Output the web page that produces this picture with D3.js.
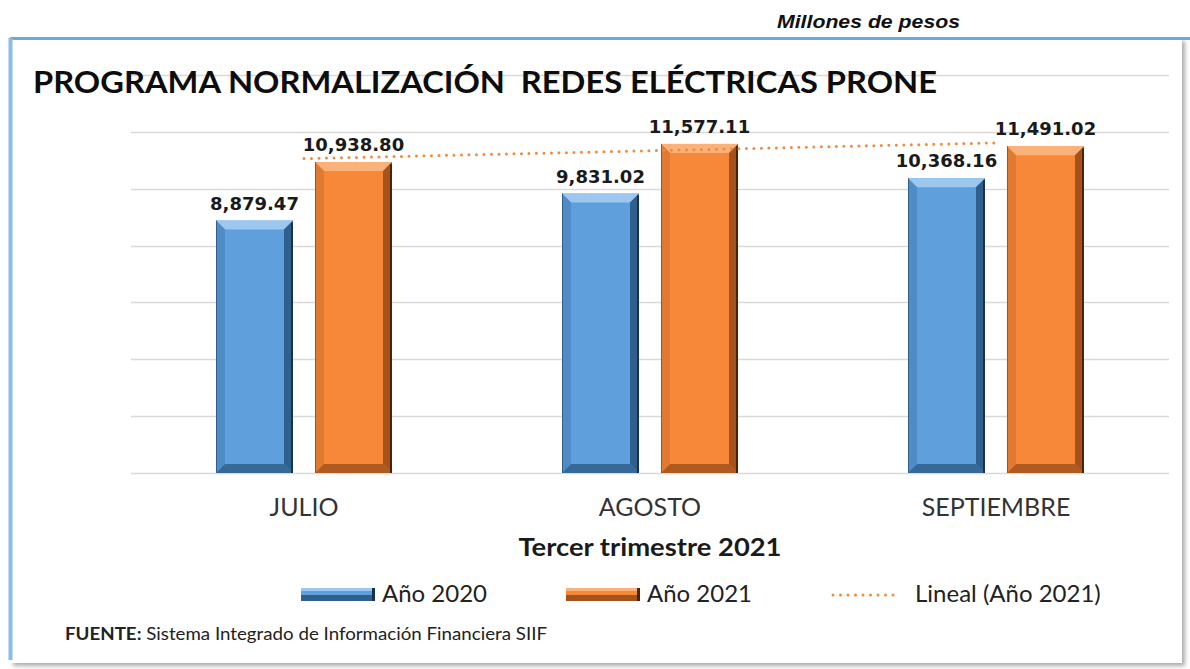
<!DOCTYPE html>
<html>
<head>
<meta charset="utf-8">
<script src="https://cdn.jsdelivr.net/npm/d3@7"></script>
<style>
  html, body { margin: 0; padding: 0; background: #fff; }
  svg { display: block; }
</style>
</head>
<body>
<svg id="chart" width="1190" height="669"></svg>
<script>
/* ------------------------------- data -------------------------------- */
const categories = ['JULIO', 'AGOSTO', 'SEPTIEMBRE'];
const series     = ['Año 2020', 'Año 2021'];
const values2020 = [8879.47, 9831.02, 10368.16];
const values2021 = [10938.80, 11577.11, 11491.02];
const yTicks     = [0, 2000, 4000, 6000, 8000, 10000, 12000, 14000];
const legendLabels = ['Año 2020', 'Año 2021', 'Lineal (Año 2021)'];

/* ------------------------------- setup ------------------------------- */
const svg = d3.select('#chart');
const PLOT = {left: 131, right: 1169, top: 75, bottom: 473};
const FONT = 'Lato, "Open Sans", sans-serif';

const xScale = d3.scaleBand().domain(categories).range([PLOT.left, PLOT.right]);
const xSub   = d3.scaleBand().domain(series).range([0, 176]).paddingInner(0.2222);
const yScale = d3.scaleLinear().domain([0, 14000]).range([PLOT.bottom, PLOT.top]);

const palette = {
  'Año 2020': {base: '#5e9fdc', light: '#9cc8f0', mid: '#4f8cc6', dark: '#2f5f8c', edge: '#16324d'},
  'Año 2021': {base: '#f7883a', light: '#fbb27a', mid: '#e07a30', dark: '#a5521c', edge: '#4a2308'}
};

/* frame */
const defs = svg.append('defs');
const shadow = defs.append('filter').attr('id', 'shadow').attr('x', '-5%').attr('y', '-5%').attr('width', '110%').attr('height', '110%');
shadow.append('feDropShadow').attr('dx', 3).attr('dy', 3).attr('stdDeviation', 2).attr('flood-color', '#888').attr('flood-opacity', 0.7);

svg.append('rect')
  .attr('x', 10).attr('y', 38).attr('width', 1172).attr('height', 625)
  .attr('fill', '#fff').attr('filter', 'url(#shadow)');
svg.append('line').attr('x1', 10).attr('x2', 1190).attr('y1', 38.5).attr('y2', 38.5)
  .attr('stroke', '#6fa6dc').attr('stroke-width', 3);
svg.append('line').attr('x1', 10.5).attr('x2', 10.5).attr('y1', 38).attr('y2', 660)
  .attr('stroke', '#8dbbe6').attr('stroke-width', 4);

/* header texts */
svg.append('text')
  .attr('x', 777).attr('y', 28)
  .attr('font-family', 'Liberation Sans, Arial, sans-serif')
  .attr('font-weight', 'bold').attr('font-style', 'italic')
  .attr('font-size', 19).attr('fill', '#111')
  .attr('textLength', 183).attr('lengthAdjust', 'spacingAndGlyphs')
  .text('Millones de pesos');

/* gridlines */
svg.append('g').selectAll('line')
  .data(yTicks)
  .join('line')
  .attr('x1', PLOT.left).attr('x2', PLOT.right)
  .attr('y1', d => Math.round(yScale(d)) + 0.5).attr('y2', d => Math.round(yScale(d)) + 0.5)
  .attr('stroke', '#d9d9d9').attr('stroke-width', 1.5);

svg.append('text')
  .attr('x', 33).attr('y', 93)
  .attr('font-family', FONT)
  .attr('font-weight', 'bold').attr('font-size', 31).attr('fill', '#0d0d0d')
  .attr('textLength', 904).attr('lengthAdjust', 'spacingAndGlyphs')
  .style('white-space', 'pre')
  .text('PROGRAMA NORMALIZACIÓN  REDES ELÉCTRICAS PRONE');

/* ------------------------------- bars -------------------------------- */
const rows = [];
categories.forEach((c, i) => {
  rows.push({cat: c, s: 'Año 2020', v: values2020[i]});
  rows.push({cat: c, s: 'Año 2021', v: values2021[i]});
});

function bevelBar(g, x, y, w, h, col, b) {
  g.append('rect').attr('x', x).attr('y', y).attr('width', w).attr('height', h).attr('fill', col.base);
  // top facet
  g.append('polygon').attr('points', [[x, y], [x + w, y], [x + w - b, y + b], [x + b, y + b]].join(' '))
    .attr('fill', col.light);
  // left facet
  g.append('polygon').attr('points', [[x, y], [x + b, y + b], [x + b, y + h - b], [x, y + h]].join(' '))
    .attr('fill', col.mid);
  // right facet
  g.append('polygon').attr('points', [[x + w, y], [x + w, y + h], [x + w - b, y + h - b], [x + w - b, y + b]].join(' '))
    .attr('fill', col.dark);
  // bottom facet
  g.append('polygon').attr('points', [[x, y + h], [x + w, y + h], [x + w - b, y + h - b], [x + b, y + h - b]].join(' '))
    .attr('fill', col.dark).attr('opacity', 0.85);
  g.append('line').attr('x1', x + w - 1).attr('x2', x + w - 1).attr('y1', y + 2).attr('y2', y + h)
    .attr('stroke', col.edge).attr('stroke-width', 2);
  g.append('line').attr('x1', x + 0.5).attr('x2', x + 0.5).attr('y1', y).attr('y2', y + h)
    .attr('stroke', col.dark).attr('stroke-width', 1);
}

const barG = svg.append('g');
rows.forEach(d => {
  const x = xScale(d.cat) + (xScale.bandwidth() - 176) / 2 + xSub(d.s);
  const y = yScale(d.v);
  bevelBar(barG.append('g'), x, y, xSub.bandwidth(), PLOT.bottom - y, palette[d.s], 9);
});

/* trendline (linear fit of Año 2021) */
const xs = values2021.map((v, i) => i + 1);
const mx = d3.mean(xs), my = d3.mean(values2021);
const slope = d3.sum(xs, (x, i) => (x - mx) * (values2021[i] - my)) / d3.sum(xs, x => (x - mx) ** 2);
const icpt = my - slope * mx;
svg.append('line')
  .attr('x1', xScale(categories[0]) + xScale.bandwidth() / 2)
  .attr('x2', xScale(categories[2]) + xScale.bandwidth() / 2)
  .attr('y1', yScale(icpt + slope * 1))
  .attr('y2', yScale(icpt + slope * 3))
  .attr('stroke', '#f08a3e').attr('stroke-width', 3)
  .attr('stroke-dasharray', '0 7.5').attr('stroke-linecap', 'round');

/* data labels */
svg.append('g').selectAll('text')
  .data(rows)
  .join('text')
  .attr('x', d => xScale(d.cat) + (xScale.bandwidth() - 176) / 2 + xSub(d.s) + xSub.bandwidth() / 2)
  .attr('y', d => yScale(d.v) - 11)
  .attr('text-anchor', 'middle')
  .attr('font-family', 'DejaVu Sans, Verdana, sans-serif')
  .attr('font-weight', 'bold').attr('font-size', 18).attr('fill', '#1a1a1a')
  .text(d => d3.format(',.2f')(d.v));

/* category axis labels */
svg.append('g').selectAll('text')
  .data(categories)
  .join('text')
  .attr('x', d => xScale(d) + xScale.bandwidth() / 2)
  .attr('y', 516)
  .attr('text-anchor', 'middle')
  .attr('font-family', FONT)
  .attr('font-size', 25).attr('fill', '#333')
  .text(d => d);

svg.append('text')
  .attr('x', (PLOT.left + PLOT.right) / 2).attr('y', 556)
  .attr('text-anchor', 'middle')
  .attr('font-family', FONT)
  .attr('font-weight', 'bold').attr('font-size', 24).attr('fill', '#1a1a1a')
  .attr('textLength', 263).attr('lengthAdjust', 'spacingAndGlyphs')
  .text('Tercer trimestre 2021');

/* ------------------------------- legend ------------------------------ */
const legend = svg.append('g');
const legendX = [301, 566, 832];
[0, 1].forEach(i => {
  const col = palette[series[i]];
  const g = legend.append('g');
  g.append('rect').attr('x', legendX[i]).attr('y', 588).attr('width', 74).attr('height', 13).attr('fill', col.base);
  g.append('rect').attr('x', legendX[i]).attr('y', 588).attr('width', 74).attr('height', 3).attr('fill', col.light);
  g.append('rect').attr('x', legendX[i]).attr('y', 595).attr('width', 74).attr('height', 6).attr('fill', col.dark);
  g.append('rect').attr('x', legendX[i] + 71).attr('y', 588).attr('width', 3).attr('height', 13).attr('fill', col.edge);
  g.append('text').attr('x', legendX[i] + 81).attr('y', 602)
    .attr('font-family', FONT)
    .attr('font-size', 24).attr('fill', '#222')
    .text(legendLabels[i]);
});
legend.append('line')
  .attr('x1', 833).attr('x2', 900).attr('y1', 595).attr('y2', 595)
  .attr('stroke', '#f08a3e').attr('stroke-width', 3)
  .attr('stroke-dasharray', '0 7.5').attr('stroke-linecap', 'round');
legend.append('text').attr('x', 915).attr('y', 602)
  .attr('font-family', FONT)
  .attr('font-size', 24).attr('fill', '#222')
  .text(legendLabels[2]);

/* source */
const src = svg.append('text').attr('x', 65).attr('y', 640)
  .attr('font-family', FONT)
  .attr('font-size', 16.5).attr('fill', '#222')
  .attr('textLength', 482).attr('lengthAdjust', 'spacingAndGlyphs');
src.append('tspan').attr('font-weight', 'bold').text('FUENTE:');
src.append('tspan').text(' Sistema Integrado de Información Financiera SIIF');
</script>
</body>
</html>
